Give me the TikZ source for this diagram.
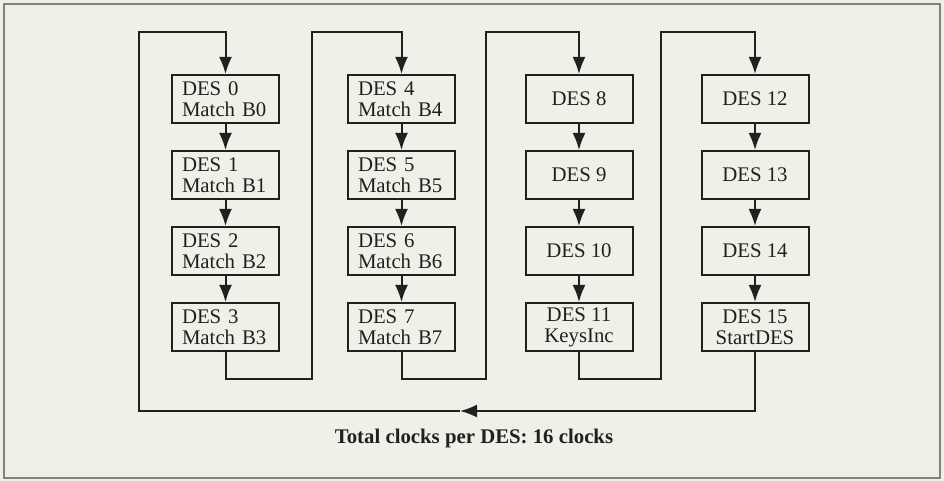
\documentclass[tikz,border=0pt]{standalone}
\usepackage{fontspec}
\setmainfont{Liberation Serif}
\usetikzlibrary{calc, positioning, arrows.meta}
\definecolor{paper}{RGB}{240,239,232}
\definecolor{ink}{RGB}{34,32,30}
\definecolor{rim}{RGB}{130,130,126}
\tikzstyle{desbox}=[draw=ink, line width=1pt, minimum width=53.5pt, minimum height=24pt, inner sep=0pt, text=ink, font=\fontsize{10.4}{10.5}\selectfont]
\tikzstyle{left box}=[desbox, align=left, text width=43.5pt]
\tikzstyle{mid box}=[desbox, align=center]
\tikzstyle{wire}=[draw=ink, line width=1pt]
\tikzstyle{flow}=[wire, -{Latex[length=8.5pt,width=6.5pt]}]

\begin{document}
\begin{tikzpicture}[x=0.5pt, y=-0.5pt]

			% paper and frame
			\fill[paper] (0,0) rectangle (944,481);
			\useasboundingbox (0,0) rectangle (944,481);
			\draw[rim, line width=0.7pt] (4,4) rectangle (940,478);

			% First two columns, text set flush left
			\foreach \n/\x/\y/\txt in {0/225.5/99/{DES 0\\Match B0}, 1/225.5/175/{DES 1\\Match B1},
			2/225.5/251/{DES 2\\Match B2}, 3/225.5/327/{DES 3\\Match B3},
			4/401.5/99/{DES 4\\Match B4}, 5/401.5/175/{DES 5\\Match B5},
			6/401.5/251/{DES 6\\Match B6}, 7/401.5/327/{DES 7\\Match B7}}
			\node[left box] (d\n) at (\x,\y) {\txt};

			% Last two columns, text centred
			\foreach \n/\x/\y/\txt in {8/579/99/{DES 8}, 9/579/175/{DES 9},
			10/579/251/{DES 10}, 11/579/327/{DES 11\\KeysInc},
			12/755/99/{DES 12}, 13/755/175/{DES 13},
			14/755/251/{DES 14}, 15/755/327/{DES 15\\StartDES}}
			\node[mid box] (d\n) at (\x,\y) {\txt};

			% Steps down each column
			\foreach \top in {0,4,8,12}
			\foreach \k in {0,1,2}
			{
			\pgfmathtruncatemacro{\a}{\top+\k}
			\pgfmathtruncatemacro{\b}{\top+\k+1}
			\draw[flow] (d\a.south) -- (d\b.north);
			}

			% Hand over from the foot of one column to the head of the next
			\coordinate (top) at (0,32);
			\coordinate (r1) at (312,379);
			\coordinate (r2) at (486,379);
			\coordinate (r3) at (661,379);
			\draw[flow] (d3.south) |- (r1) -- (r1 |- top) -| (d4.north);
			\draw[flow] (d7.south) |- (r2) -- (r2 |- top) -| (d8.north);
			\draw[flow] (d11.south) |- (r3) -- (r3 |- top) -| (d12.north);

			% Back round to the first step
			\coordinate (back) at (460,411);
			\coordinate (ret) at (139,411);
			\draw[flow] (d15.south) |- (back);
			\draw[flow] (back) -- (ret) -- (ret |- top) -| (d0.north);

			% Caption
			\node[text=ink, font=\fontsize{10.4}{12}\selectfont\bfseries] (total) at (474,438) {Total clocks per DES: 16 clocks};
		\end{tikzpicture}
\end{document}
